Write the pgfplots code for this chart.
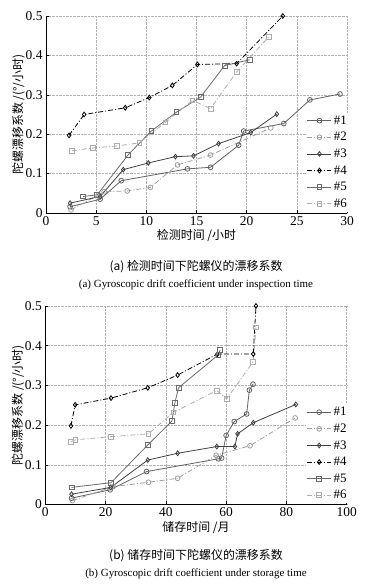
\documentclass[border=0pt]{standalone}
\usepackage{pgfplots}
\pgfplotsset{compat=1.18}
\usepackage{fontspec}
\setmainfont{Liberation Serif}
\newfontfamily\cjk{Noto Sans CJK SC}
\definecolor{cA}{gray}{0.38}
\definecolor{cB}{gray}{0.62}
\definecolor{cC}{gray}{0.25}
\definecolor{cD}{gray}{0.0}
\definecolor{cE}{gray}{0.42}
\definecolor{cF}{gray}{0.68}
\pgfplotsset{
  mystyle/.style={
    scale only axis,
    axis x line*=bottom, axis y line*=left,
    axis line style={line width=0.6bp, black},
    grid=major,
    major grid style={densely dotted, gray!60, line width=0.5bp},
    ymin=0, ymax=0.5, ytick={0,0.1,0.2,0.3,0.4,0.5},
    yticklabels={0,0.1,0.2,0.3,0.4,0.5},
    tick align=inside, major tick length=3bp,
    tick style={black, line width=0.5bp},
    /pgf/number format/assume math mode=true,
    tick label style={font=\fontsize{13.5}{14}\selectfont},
    ylabel={\cjk\fontsize{12}{13}\selectfont 陀螺漂移系数 /(°/小时)},
    ylabel style={yshift=-6bp},
    xlabel style={yshift=3bp},
    legend style={at={(rel axis cs:1.01,0.005)}, anchor=south east, draw=none, fill=white,
      font=\fontsize{13}{14}\selectfont, row sep=2.6bp, inner sep=1bp},
    legend cell align=left,
    legend image code/.code={\draw[mark repeat=2,mark phase=2] plot coordinates {(0bp,0bp) (12bp,0bp) (24bp,0bp)};},
    every axis plot/.append style={line width=0.8bp, mark size=2.4bp, mark options={solid, fill=white}},
  },
  s1/.style={color=cA, mark=o},
  s2/.style={color=cB, mark=o, dash pattern=on 5bp off 2bp on 1bp off 2bp},
  s3/.style={color=cC, mark=diamond},
  s4/.style={color=cD, mark=diamond, dash pattern=on 5bp off 2bp on 1bp off 2bp},
  s5/.style={color=cE, mark=square},
  s6/.style={color=cF, mark=square, dash pattern=on 5bp off 2bp on 1bp off 2bp},
}
\begin{document}
\begin{tikzpicture}
\path[use as bounding box] (0bp,0bp) rectangle (371bp,584bp);
\begin{axis}[mystyle, at={(46bp,371bp)}, anchor=south west, width=301bp, height=197bp,
  xmin=0, xmax=30, xtick={0,5,10,15,20,25,30},
  xlabel={\cjk\fontsize{12}{13}\selectfont 检测时间 /小时}]
\addplot[s1] coordinates {(2.4,0.016) (5.4,0.035) (7.5,0.082) (14.1,0.112) (16.4,0.116) (19.2,0.172) (19.7,0.208) (23.7,0.227) (26.3,0.287) (29.3,0.302)};
\addlegendentry{\#1}
\addplot[s2] coordinates {(2.5,0.008) (5.8,0.054) (8.1,0.056) (10.4,0.065) (13.1,0.122) (16.4,0.147) (22.4,0.216)};
\addlegendentry{\#2}
\addplot[s3] coordinates {(2.4,0.025) (5.4,0.042) (7.7,0.11) (10.2,0.127) (12.9,0.143) (14.7,0.145) (17.2,0.176) (20.4,0.204) (23.0,0.251)};
\addlegendentry{\#3}
\addplot[s4] coordinates {(2.3,0.197) (3.8,0.25) (7.9,0.267) (10.3,0.293) (12.6,0.324) (15.1,0.377) (19.0,0.379) (23.6,0.5)};
\addlegendentry{\#4}
\addplot[s5] coordinates {(3.7,0.042) (5.1,0.046) (8.2,0.148) (10.5,0.208) (13.0,0.256) (15.4,0.294) (17.8,0.374) (20.3,0.389)};
\addlegendentry{\#5}
\addplot[s6] coordinates {(2.6,0.158) (4.65,0.165) (7.05,0.17) (9.3,0.178) (11.9,0.23) (14.6,0.286) (16.4,0.265) (19.0,0.358) (22.2,0.447)};
\addlegendentry{\#6}
\end{axis}
\node at (196bp,317bp) {\cjk\fontsize{12}{13}\selectfont (a) 检测时间下陀螺仪的漂移系数};
\node at (196bp,299bp) {\fontsize{11}{12}\selectfont (a) Gyroscopic drift coefficient under inspection time};
\begin{axis}[mystyle, at={(45.3bp,79.5bp)}, anchor=south west, width=301.4bp, height=198.5bp,
  xmin=0, xmax=100, xtick={0,20,40,60,80,100},
  xlabel={\cjk\fontsize{12}{13}\selectfont 储存时间 /月}]
\addplot[s1] coordinates {(8.7,0.016) (21.5,0.037) (33.6,0.083) (57.4,0.115) (58.5,0.117) (60,0.174) (62.7,0.209) (66.8,0.228) (67.7,0.288) (68.9,0.303)};
\addlegendentry{\#1}
\addplot[s2] coordinates {(9,0.01) (22.5,0.045) (34.2,0.056) (43.9,0.066) (56.7,0.124) (67.9,0.148) (82.9,0.218)};
\addlegendentry{\#2}
\addplot[s3] coordinates {(8.7,0.026) (21.7,0.043) (34,0.112) (43.9,0.129) (56.9,0.146) (62.9,0.146) (63.8,0.178) (69,0.206) (83.1,0.252)};
\addlegendentry{\#3}
\addplot[s4] coordinates {(8.5,0.198) (9.9,0.251) (21.8,0.268) (34,0.294) (43.9,0.326) (57.1,0.379) (69,0.379) (69.9,0.5)};
\addlegendentry{\#4}
\addplot[s5] coordinates {(8.7,0.043) (21.8,0.055) (34,0.15) (42,0.21) (43,0.256) (44.2,0.294) (57.4,0.377) (58,0.389)};
\addlegendentry{\#5}
\addplot[s6] coordinates {(8.5,0.158) (10,0.163) (21.8,0.171) (34.2,0.178) (42.5,0.232) (56.9,0.287) (60.2,0.266) (69,0.36) (69.9,0.446)};
\addlegendentry{\#6}
\end{axis}
\node at (196bp,28bp) {\cjk\fontsize{12}{13}\selectfont (b) 储存时间下陀螺仪的漂移系数};
\node at (196bp,10bp) {\fontsize{11}{12}\selectfont (b) Gyroscopic drift coefficient under storage time};
\end{tikzpicture}
\end{document}
